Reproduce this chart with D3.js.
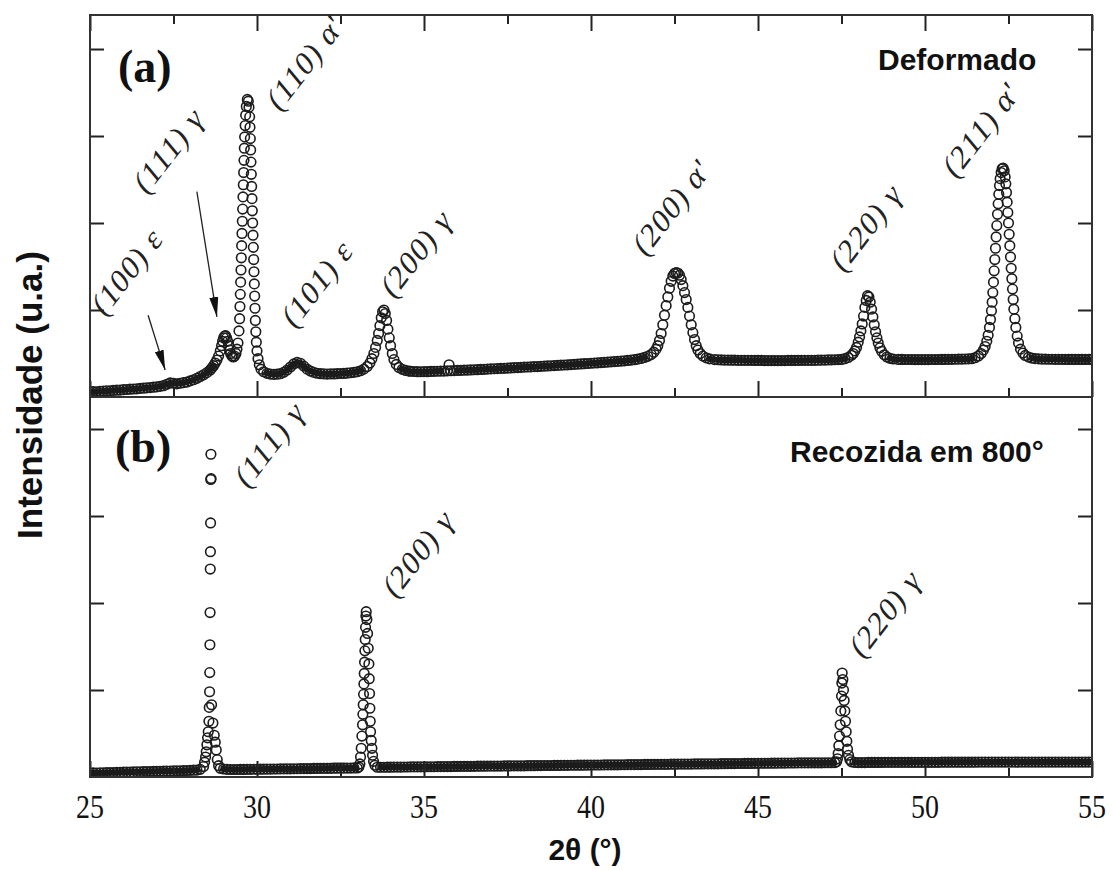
<!DOCTYPE html>
<html lang="pt">
<head>
<meta charset="utf-8">
<title>Difratogramas - Deformado / Recozida</title>
<script src="https://cdnjs.cloudflare.com/ajax/libs/d3/7.8.5/d3.min.js"></script>
<style>
  body { margin: 0; background: #fff; }
  .serif { font-family: "Liberation Serif", "Times New Roman", serif; }
  .sans { font-family: "Liberation Sans", Arial, sans-serif; font-weight: bold; }
</style>
</head>
<body>
<script>

// ---- data: [2theta, intensity (a.u.)] ----
const deformado = [
  [25.0,58],[25.1,62],[25.2,60],[25.3,66],[25.4,68],[25.5,71],[25.6,70],[25.7,76],[25.8,78],[25.9,80],
  [26.0,84],[26.1,86],[26.2,90],[26.3,92],[26.4,94],[26.5,99],[26.6,101],[26.7,106],[26.8,108],[26.9,113],
  [27.0,116],[27.1,122],[27.2,130],[27.3,146],[27.4,162],[27.5,158],[27.6,152],[27.7,158],[27.8,165],[27.9,172],
  [28.0,185],[28.1,198],[28.2,215],[28.3,235],[28.4,255],[28.5,280],[28.6,310],[28.65,335],[28.7,360],[28.75,390],
  [28.8,425],[28.85,470],[28.9,530],[28.94,590],[28.97,640],[29.0,680],[29.03,700],[29.06,705],[29.09,680],[29.12,640],
  [29.15,590],[29.18,540],[29.21,500],[29.25,470],[29.29,460],[29.33,470],[29.37,500],[29.4,550],[29.43,620],[29.46,760],
  [29.48,900],[29.49,1040],[29.5,1180],[29.51,1320],[29.52,1460],[29.53,1600],[29.54,1740],[29.55,1880],[29.56,2020],[29.57,2160],
  [29.58,2300],[29.59,2440],[29.6,2580],[29.61,2720],[29.62,2860],[29.63,2990],[29.645,3120],[29.66,3240],[29.68,3340],[29.71,3420],
  [29.74,3400],[29.76,3330],[29.78,3220],[29.79,3100],[29.8,2970],[29.81,2840],[29.82,2700],[29.83,2560],[29.84,2420],[29.85,2280],
  [29.86,2140],[29.87,2000],[29.88,1860],[29.89,1720],[29.9,1580],[29.91,1440],[29.92,1300],[29.93,1160],[29.94,1020],[29.95,880],
  [29.965,750],[29.98,630],[30.0,530],[30.03,440],[30.07,370],[30.12,320],[30.2,290],[30.3,272],[30.4,264],[30.5,260],
  [30.6,262],[30.7,268],[30.8,284],[30.9,310],[31.0,345],[31.1,380],[31.2,398],[31.3,388],[31.4,355],[31.5,320],
  [31.6,298],[31.7,283],[31.8,273],[31.9,268],[32.0,266],[32.1,264],[32.2,266],[32.3,265],[32.4,268],[32.5,270],
  [32.6,271],[32.7,275],[32.8,279],[32.9,284],[33.0,290],[33.1,302],[33.2,320],[33.3,350],[33.38,390],[33.44,440],
  [33.5,500],[33.55,570],[33.6,650],[33.64,730],[33.68,820],[33.72,910],[33.76,980],[33.8,1000],[33.84,960],[33.88,880],
  [33.92,780],[33.96,680],[34.0,590],[34.05,500],[34.1,430],[34.17,375],[34.25,340],[34.35,318],[34.45,305],[34.55,298],
  [34.6,296],[34.7,293],[34.8,291],[34.9,290],[35.0,292],[35.1,291],[35.2,294],[35.3,295],[35.4,296],[35.5,298],
  [35.6,298],[35.7,301],[35.75,370],[35.8,302],[35.9,303],[36.0,305],[36.1,306],[36.2,308],[36.3,309],[36.4,311],
  [36.5,313],[36.6,314],[36.7,317],[36.8,318],[36.9,321],[37.0,323],[37.1,325],[37.2,326],[37.3,329],[37.4,330],
  [37.5,333],[37.6,334],[37.7,337],[37.8,338],[37.9,341],[38.0,343],[38.1,345],[38.2,346],[38.3,349],[38.4,350],
  [38.5,353],[38.6,355],[38.7,357],[38.8,359],[38.9,361],[39.0,364],[39.1,366],[39.2,368],[39.3,370],[39.4,373],
  [39.5,375],[39.6,378],[39.7,380],[39.8,383],[39.9,385],[40.0,388],[40.1,391],[40.2,393],[40.3,396],[40.4,399],
  [40.5,401],[40.6,404],[40.7,407],[40.8,410],[40.9,413],[41.0,416],[41.1,420],[41.2,424],[41.3,429],[41.4,435],
  [41.5,443],[41.6,455],[41.7,468],[41.8,488],[41.88,515],[41.95,550],[42.0,590],[42.05,650],[42.1,730],[42.15,830],
  [42.2,940],[42.25,1050],[42.3,1150],[42.35,1250],[42.4,1330],[42.45,1390],[42.5,1420],[42.55,1430],[42.6,1425],[42.65,1400],
  [42.7,1350],[42.75,1280],[42.8,1200],[42.85,1120],[42.9,1030],[42.95,930],[43.0,830],[43.05,740],[43.1,660],[43.15,590],
  [43.2,540],[43.27,500],[43.35,470],[43.45,450],[43.55,438],[43.7,430],[43.8,428],[43.9,426],[44.0,425],[44.1,424],
  [44.2,423],[44.3,423],[44.4,422],[44.5,422],[44.6,421],[44.7,421],[44.8,421],[44.9,420],[45.0,420],[45.1,420],
  [45.2,419],[45.3,419],[45.4,419],[45.5,419],[45.6,419],[45.7,419],[45.8,419],[45.9,420],[46.0,420],[46.1,420],
  [46.2,420],[46.3,421],[46.4,421],[46.5,421],[46.6,422],[46.7,422],[46.8,423],[46.9,424],[47.0,425],[47.1,426],
  [47.2,427],[47.3,428],[47.4,430],[47.5,432],[47.6,440],[47.7,455],[47.8,480],[47.85,500],[47.9,530],[47.95,570],
  [48.0,630],[48.04,690],[48.08,760],[48.12,840],[48.16,930],[48.2,1030],[48.24,1110],[48.28,1165],[48.32,1150],[48.36,1090],
  [48.4,1010],[48.44,920],[48.48,830],[48.52,750],[48.56,680],[48.6,620],[48.65,565],[48.7,525],[48.78,485],[48.86,460],
  [48.95,445],[49.05,437],[49.2,432],[49.3,432],[49.4,431],[49.5,431],[49.6,431],[49.7,430],[49.8,430],[49.9,430],
  [50.0,430],[50.1,430],[50.2,431],[50.3,431],[50.4,431],[50.5,432],[50.6,432],[50.7,433],[50.8,433],[50.9,434],
  [51.0,435],[51.1,436],[51.2,437],[51.3,438],[51.4,440],[51.5,452],[51.6,472],[51.68,500],[51.75,540],[51.8,580],
  [51.85,640],[51.89,710],[51.93,800],[51.96,890],[51.99,990],[52.01,1090],[52.03,1200],[52.05,1320],[52.07,1450],[52.09,1580],
  [52.11,1710],[52.13,1840],[52.15,1970],[52.17,2100],[52.19,2220],[52.21,2330],[52.23,2430],[52.25,2510],[52.28,2580],[52.31,2625],
  [52.34,2630],[52.37,2600],[52.4,2530],[52.42,2450],[52.44,2350],[52.46,2240],[52.48,2120],[52.5,2000],[52.52,1870],[52.54,1740],
  [52.56,1610],[52.58,1480],[52.6,1360],[52.62,1240],[52.64,1120],[52.66,1010],[52.69,900],[52.72,800],[52.76,700],[52.8,620],
  [52.86,550],[52.93,505],[53.0,478],[53.1,458],[53.2,447],[53.3,441],[53.4,438],[53.5,436],[53.6,435],[53.7,434],
  [53.8,434],[53.9,433],[54.0,433],[54.1,433],[54.2,432],[54.3,432],[54.4,432],[54.5,432],[54.6,432],[54.7,432],
  [54.8,432],[54.9,432],[55.0,432]
];

const recozida = [
  [25.0,45],[25.1,47],[25.2,46],[25.3,48],[25.4,49],[25.5,51],[25.6,50],[25.7,52],[25.8,54],[25.9,53],
  [26.0,55],[26.1,57],[26.2,56],[26.3,58],[26.4,60],[26.5,59],[26.6,61],[26.7,63],[26.8,62],[26.9,64],
  [27.0,66],[27.1,65],[27.2,67],[27.3,69],[27.4,68],[27.5,70],[27.6,72],[27.7,71],[27.8,73],[27.9,75],
  [28.0,76],[28.1,78],[28.2,80],[28.3,88],[28.4,120],[28.43,170],[28.46,230],[28.48,290],[28.5,370],[28.52,450],
  [28.54,520],[28.56,640],[28.57,800],[28.58,980],[28.585,1200],[28.59,1520],[28.595,1890],[28.6,2390],[28.605,2590],[28.61,2920],
  [28.615,3420],[28.62,3710],[28.625,3430],[28.64,830],[28.68,620],[28.72,480],[28.75,400],[28.78,310],[28.81,200],[28.85,130],
  [28.9,100],[29.0,92],[29.1,88],[29.2,86],[29.3,86],[29.4,86],[29.5,87],[29.6,87],[29.7,88],[29.8,88],
  [29.9,89],[30.0,89],[30.1,90],[30.2,90],[30.3,91],[30.4,91],[30.5,92],[30.6,92],[30.7,93],[30.8,93],
  [30.9,94],[31.0,94],[31.1,95],[31.2,95],[31.3,96],[31.4,96],[31.5,97],[31.6,97],[31.7,98],[31.8,98],
  [31.9,99],[32.0,99],[32.1,100],[32.2,100],[32.3,101],[32.4,101],[32.5,102],[32.6,102],[32.7,103],[32.8,103],
  [32.9,104],[33.0,104],[33.05,115],[33.08,150],[33.1,230],[33.12,330],[33.14,470],[33.16,600],[33.17,720],[33.18,830],
  [33.19,950],[33.2,1070],[33.21,1190],[33.22,1320],[33.23,1450],[33.24,1580],[33.25,1720],[33.26,1850],[33.27,1900],[33.29,1810],
  [33.31,1650],[33.33,1480],[33.35,1300],[33.36,1130],[33.37,960],[33.38,790],[33.39,640],[33.4,520],[33.42,420],[33.44,330],
  [33.46,250],[33.49,180],[33.53,135],[33.6,112],[33.7,112],[33.8,112],[33.9,113],[34.0,113],[34.1,114],[34.2,114],
  [34.3,114],[34.4,115],[34.5,115],[34.6,116],[34.7,116],[34.8,116],[34.9,117],[35.0,117],[35.1,118],[35.2,118],
  [35.3,118],[35.4,119],[35.5,119],[35.6,120],[35.7,120],[35.8,120],[35.9,121],[36.0,121],[36.1,122],[36.2,122],
  [36.3,122],[36.4,123],[36.5,123],[36.6,124],[36.7,124],[36.8,124],[36.9,125],[37.0,125],[37.1,126],[37.2,126],
  [37.3,126],[37.4,127],[37.5,127],[37.6,128],[37.7,128],[37.8,128],[37.9,129],[38.0,129],[38.1,130],[38.2,130],
  [38.3,130],[38.4,131],[38.5,131],[38.6,132],[38.7,132],[38.8,132],[38.9,133],[39.0,133],[39.1,134],[39.2,134],
  [39.3,134],[39.4,135],[39.5,135],[39.6,136],[39.7,136],[39.8,136],[39.9,137],[40.0,137],[40.1,138],[40.2,138],
  [40.3,138],[40.4,139],[40.5,139],[40.6,140],[40.7,140],[40.8,140],[40.9,141],[41.0,141],[41.1,142],[41.2,142],
  [41.3,142],[41.4,143],[41.5,143],[41.6,144],[41.7,144],[41.8,144],[41.9,145],[42.0,145],[42.1,146],[42.2,146],
  [42.3,146],[42.4,147],[42.5,147],[42.6,148],[42.7,148],[42.8,148],[42.9,149],[43.0,149],[43.1,150],[43.2,150],
  [43.3,150],[43.4,151],[43.5,151],[43.6,152],[43.7,152],[43.8,152],[43.9,153],[44.0,153],[44.1,154],[44.2,154],
  [44.3,154],[44.4,155],[44.5,155],[44.6,156],[44.7,156],[44.8,156],[44.9,157],[45.0,157],[45.1,158],[45.2,158],
  [45.3,158],[45.4,159],[45.5,159],[45.6,160],[45.7,160],[45.8,160],[45.9,161],[46.0,161],[46.1,161],[46.2,162],
  [46.3,162],[46.4,162],[46.5,162],[46.6,163],[46.7,163],[46.8,163],[46.9,163],[47.0,164],[47.1,164],[47.2,164],
  [47.3,165],[47.35,175],[47.38,210],[47.4,270],[47.42,360],[47.44,470],[47.46,600],[47.48,760],[47.5,930],[47.51,1080],
  [47.52,1195],[47.54,1120],[47.56,1000],[47.58,880],[47.6,760],[47.62,640],[47.64,520],[47.66,410],[47.68,320],[47.71,250],
  [47.75,200],[47.8,175],[47.9,167],[48.0,166],[48.1,166],[48.2,166],[48.3,167],[48.4,167],[48.5,167],[48.6,167],
  [48.7,167],[48.8,168],[48.9,168],[49.0,168],[49.1,168],[49.2,168],[49.3,168],[49.4,168],[49.5,168],[49.6,169],
  [49.7,169],[49.8,169],[49.9,169],[50.0,169],[50.1,169],[50.2,169],[50.3,169],[50.4,169],[50.5,170],[50.6,170],
  [50.7,170],[50.8,170],[50.9,170],[51.0,170],[51.1,170],[51.2,170],[51.3,170],[51.4,170],[51.5,170],[51.6,171],
  [51.7,171],[51.8,171],[51.9,171],[52.0,171],[52.1,171],[52.2,171],[52.3,171],[52.4,171],[52.5,171],[52.6,171],
  [52.7,171],[52.8,171],[52.9,172],[53.0,172],[53.1,172],[53.2,172],[53.3,172],[53.4,172],[53.5,172],[53.6,172],
  [53.7,172],[53.8,172],[53.9,172],[54.0,172],[54.1,172],[54.2,172],[54.3,172],[54.4,172],[54.5,172],[54.6,172],
  [54.7,172],[54.8,172],[54.9,172],[55.0,172]
];

// axis ticks
const majorX = [25, 30, 35, 40, 45, 50, 55];
const minorX = [27.5, 32.5, 37.5, 42.5, 47.5, 52.5];
const yTicks = [1000, 2000, 3000, 4000];

// peak annotations: text, and where the text starts [2theta, intensity]
const peaksA = ["(100) ε", "(111) γ", "(110) α'", "(101) ε", "(200) γ", "(200) α'", "(220) γ", "(211) α'"];
const peaksAAt = [[25.42,908],[26.68,2310],[30.66,3264],[31.11,770],[34.07,1115],[41.62,1598],[47.54,1414],[50.90,2494]];
const peaksB = ["(111) γ", "(200) γ", "(220) γ"];
const peaksBAt = [[29.70,3299],[34.13,2034],[48.11,1345]];
// arrows in panel (a): [from, to]
const arrowsA = [[[26.74,940],[27.25,310]], [[28.2,2360],[28.8,920]]];

const W = 1113, H = 870;
const xL = 90, xR = 1092, yTop = 15, yMid = 397, yBot = 777;

const svg = d3.select("body").append("svg")
    .attr("width", W)
    .attr("height", H);

const x = d3.scaleLinear().domain([25, 55]).range([xL, xR]);
const yA = d3.scaleLinear().domain([0, 4391]).range([yMid, yTop]);
const yB = d3.scaleLinear().domain([0, 4368]).range([yBot, yMid]);

const defs = svg.append("defs");
defs.append("clipPath").attr("id", "clipA").append("rect")
    .attr("x", xL).attr("y", yTop).attr("width", xR - xL).attr("height", yMid - yTop);
defs.append("clipPath").attr("id", "clipB").append("rect")
    .attr("x", xL).attr("y", yMid).attr("width", xR - xL).attr("height", yBot - yMid);
defs.append("marker")
    .attr("id", "arrowhead")
    .attr("viewBox", "0 0 20 9")
    .attr("refX", 20).attr("refY", 4.5)
    .attr("markerWidth", 20).attr("markerHeight", 9)
    .attr("markerUnits", "userSpaceOnUse")
    .attr("orient", "auto")
  .append("path")
    .attr("d", "M0,0 L20,4.5 L0,9 Z")
    .attr("fill", "#111");

// scatter of open circles; where the scan is flat the markers pile up
// into a solid band, so a thick stroke runs under the flat low part of it
function drawScan(data, y, clip, flatBelow) {
  const g = svg.append("g").attr("clip-path", "url(#" + clip + ")");
  const flat = (d, i, arr) => {
    const prev = arr[Math.max(i - 1, 0)][1], next = arr[Math.min(i + 1, arr.length - 1)][1];
    return d[1] < flatBelow && Math.abs(d[1] - prev) < 40 && Math.abs(d[1] - next) < 40;
  };
  g.append("path")
      .datum(data)
      .attr("fill", "none")
      .attr("stroke", "#1c1c1c")
      .attr("stroke-width", 6)
      .attr("stroke-linejoin", "round")
      .attr("d", d3.line()
        .defined(flat)
        .x(d => x(d[0]))
        .y(d => y(d[1])));
  g.selectAll("circle")
    .data(data)
    .join("circle")
      .attr("cx", d => x(d[0]))
      .attr("cy", d => y(d[1]))
      .attr("r", 4.8)
      .attr("fill", "none")
      .attr("stroke", "#1c1c1c")
      .attr("stroke-width", 1.6);
}
drawScan(deformado, yA, "clipA", 470);
drawScan(recozida, yB, "clipB", 180);

// inward tick marks
function ticks(axis, tx, ty, values, len) {
  const g = svg.append("g")
      .attr("transform", "translate(" + tx + "," + ty + ")")
      .call(axis.tickValues(values).tickSizeInner(-len).tickSizeOuter(0).tickFormat(""));
  g.select(".domain").remove();
  g.selectAll("line").attr("stroke", "#222").attr("stroke-width", 2);
  return g;
}
ticks(d3.axisTop(x), 0, yTop, majorX, 16);
ticks(d3.axisTop(x), 0, yTop, minorX, 9);
ticks(d3.axisBottom(x), 0, yMid, majorX, 16);
ticks(d3.axisBottom(x), 0, yMid, minorX, 9);
ticks(d3.axisBottom(x), 0, yBot, majorX, 16);
ticks(d3.axisBottom(x), 0, yBot, minorX, 9);
ticks(d3.axisLeft(yA), xL, 0, yTicks, 14);
ticks(d3.axisRight(yA), xR, 0, yTicks, 14);
ticks(d3.axisLeft(yB), xL, 0, yTicks, 14);
ticks(d3.axisRight(yB), xR, 0, yTicks, 14);

// x tick labels (Times, a bit tall as in the figure)
svg.append("g").selectAll("text")
  .data(majorX)
  .join("text")
    .attr("class", "serif")
    .attr("transform", d => "translate(" + x(d) + "," + yBot + ") scale(1,1.2)")
    .attr("y", 34)
    .attr("text-anchor", "middle")
    .attr("font-size", 28)
    .attr("fill", "#111")
    .text(d => d);

// frame
svg.append("rect")
    .attr("x", xL).attr("y", yTop)
    .attr("width", xR - xL).attr("height", yBot - yTop)
    .attr("fill", "none").attr("stroke", "#333").attr("stroke-width", 2);
svg.append("line")
    .attr("x1", xL).attr("x2", xR).attr("y1", yMid).attr("y2", yMid)
    .attr("stroke", "#333").attr("stroke-width", 2);

// arrows
svg.append("g").selectAll("line")
  .data(arrowsA)
  .join("line")
    .attr("x1", d => x(d[0][0])).attr("y1", d => yA(d[0][1]))
    .attr("x2", d => x(d[1][0])).attr("y2", d => yA(d[1][1]))
    .attr("stroke", "#222").attr("stroke-width", 1.3)
    .attr("marker-end", "url(#arrowhead)");

// rotated peak labels
function peakLabels(names, at, y) {
  svg.append("g").selectAll("text")
    .data(names)
    .join("text")
      .attr("class", "serif")
      .attr("transform", (d, i) => "translate(" + x(at[i][0]) + "," + y(at[i][1]) + ") scale(1,1.25) rotate(-46)")
      .attr("font-size", 28)
      .attr("letter-spacing", 1)
      .attr("fill", "#222")
      .text(d => d);
}
peakLabels(peaksA, peaksAAt, yA);
peakLabels(peaksB, peaksBAt, yB);

// panel tags and titles
svg.append("text").attr("class", "serif").attr("x", 118).attr("y", 82)
    .attr("font-size", 46).attr("font-weight", "bold").attr("fill", "#111").text("(a)");
svg.append("text").attr("class", "serif").attr("x", 115).attr("y", 462)
    .attr("font-size", 46).attr("font-weight", "bold").attr("fill", "#111").text("(b)");
svg.append("text").attr("class", "sans").attr("x", 878).attr("y", 70)
    .attr("font-size", 30).attr("fill", "#111").text("Deformado");
svg.append("text").attr("class", "sans").attr("x", 790).attr("y", 462)
    .attr("font-size", 30).attr("fill", "#111").text("Recozida em 800°");

// axis titles
svg.append("text").attr("class", "sans")
    .attr("transform", "translate(42,395) rotate(-90)")
    .attr("text-anchor", "middle")
    .attr("font-size", 35)
    .attr("fill", "#111")
    .text("Intensidade (u.a.)");
svg.append("text").attr("class", "sans")
    .attr("x", 585).attr("y", 860)
    .attr("text-anchor", "middle")
    .attr("font-size", 30)
    .attr("fill", "#111")
    .text("2θ (°)");

</script>
</body>
</html>
